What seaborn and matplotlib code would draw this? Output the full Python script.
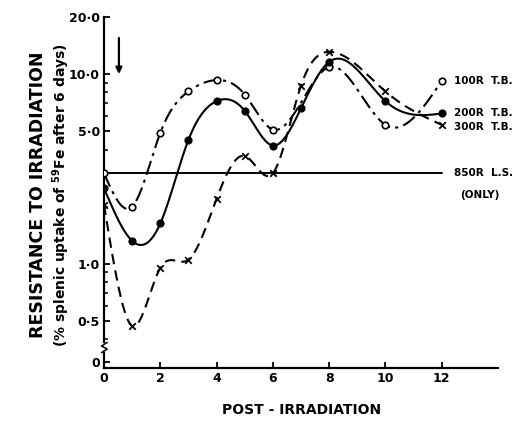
import numpy as np
import pandas as pd
import matplotlib
matplotlib.use("Agg")
import matplotlib.pyplot as plt
import matplotlib.transforms as mtransforms
import seaborn as sns

# ---- data ----
days_all = [0, 1, 2, 3, 4, 5, 6, 7, 8, 10, 12]
days_100 = [0, 1, 2, 3, 4, 5, 6, 8, 10, 12]
uptake_100R = [3.0, 2.0, 4.9, 8.1, 9.3, 7.8, 5.1, 10.9, 5.4, 9.2]
uptake_200R = [2.5, 1.32, 1.63, 4.5, 7.2, 6.4, 4.2, 6.6, 11.6, 7.2, 6.2]
uptake_300R = [2.05, 0.47, 0.95, 1.05, 2.2, 3.7, 3.0, 8.7, 13.1, 8.1, 5.4]
level_850R = 3.0
line_850R_x = [0, 12]

series_labels = ["100R  T.B.", "200R  T.B.", "300R  T.B."]
ytick_vals = [0.303, 0.5, 1.0, 5.0, 10.0, 20.0]
ytick_labels = ["0", "0·5", "1·0", "5·0", "10·0", "20·0"]
yminor_vals = [0.4, 0.6, 0.7, 0.8, 0.9, 2, 3, 4, 6, 7, 8, 9]
xtick_vals = [0, 2, 4, 6, 8, 10, 12]


def natural_spline(x, y, xs):
    x = np.asarray(x, float)
    y = np.asarray(y, float)
    n = len(x)
    h = np.diff(x)
    A = np.zeros((n, n))
    b = np.zeros(n)
    A[0, 0] = A[-1, -1] = 1
    for i in range(1, n - 1):
        A[i, i - 1] = h[i - 1]
        A[i, i] = 2 * (h[i - 1] + h[i])
        A[i, i + 1] = h[i]
        b[i] = 6 * ((y[i + 1] - y[i]) / h[i] - (y[i] - y[i - 1]) / h[i - 1])
    M = np.linalg.solve(A, b)
    idx = np.clip(np.searchsorted(x, xs) - 1, 0, n - 2)
    x0 = x[idx]
    x1 = x[idx + 1]
    hh = x1 - x0
    t0 = xs - x0
    t1 = x1 - xs
    return (M[idx] * t1 ** 3 / (6 * hh) + M[idx + 1] * t0 ** 3 / (6 * hh)
            + (y[idx] / hh - M[idx] * hh / 6) * t1
            + (y[idx + 1] / hh - M[idx + 1] * hh / 6) * t0)


def smooth(x, v):
    xs = np.linspace(x[0], x[-1], 400)
    ys = 10 ** natural_spline(x, np.log10(v), xs)
    return pd.DataFrame({"day": xs, "uptake": ys})


sns.set_style("ticks")
plt.rcParams["font.family"] = ["DejaVu Sans"]
plt.rcParams["font.weight"] = "bold"
plt.rcParams["text.color"] = "black"
plt.rcParams["xtick.color"] = "black"
plt.rcParams["ytick.color"] = "black"
plt.rcParams["axes.labelcolor"] = "black"

fig = plt.figure(figsize=(5.16, 4.25), dpi=100)
ax = fig.add_axes([104 / 516, 1 - 368 / 425, (498 - 104) / 516, (368 - 17) / 425])
ax.set_yscale("log")

styles = [
    (days_100, uptake_100R, (0, (7, 2.5, 1.5, 2.5)), "o", "white"),
    (days_all, uptake_200R, "-", "o", "black"),
    (days_all, uptake_300R, (0, (5, 3)), "x", "black"),
]
for x, v, ls, mk, fc in styles:
    df = smooth(x, v)
    sns.lineplot(data=df, x="day", y="uptake", ax=ax, color="black", lw=1.5,
                 linestyle=ls, sort=False, estimator=None, legend=False)
    pts = pd.DataFrame({"day": x, "uptake": v})
    if mk == "x":
        sns.scatterplot(data=pts, x="day", y="uptake", ax=ax, marker="x",
                        color="black", s=22, linewidth=1.3, legend=False, zorder=5)
    else:
        sns.scatterplot(data=pts, x="day", y="uptake", ax=ax, marker="o",
                        facecolor=fc, edgecolor="black", s=22, linewidth=1.2,
                        legend=False, zorder=5)

# 850R L.S. only reference line
sns.lineplot(x=line_850R_x, y=[level_850R, level_850R], ax=ax, color="black",
             lw=1.4, legend=False)

ax.set_xlim(0, 14)
ax.set_ylim(0.282, 20)
ax.set_yticks(ytick_vals)
ax.set_yticklabels(ytick_labels)
ax.set_yticks(yminor_vals, minor=True)
ax.yaxis.set_minor_formatter(matplotlib.ticker.NullFormatter())
ax.set_xticks(xtick_vals)
ax.set_xticklabels([str(t) for t in xtick_vals])
ax.tick_params(axis="both", which="major", direction="in", length=4, width=1.3,
               labelsize=9, pad=3, color="black", labelcolor="black")
ax.tick_params(axis="y", which="minor", direction="in", length=3, width=1.1,
               color="black")
for lab in ax.get_xticklabels() + ax.get_yticklabels():
    lab.set_fontweight("bold")
for s in ["top", "right"]:
    ax.spines[s].set_visible(False)
for s in ["left", "bottom"]:
    ax.spines[s].set_linewidth(1.6)
    ax.spines[s].set_color("black")
ax.set_xlabel("")
ax.set_ylabel("")

# axis break mark on the y axis
trans = mtransforms.blended_transform_factory(ax.transAxes, ax.transData)
ax.plot([0.0, 0.0], [0.35, 0.375], color="white", lw=3, transform=trans,
        clip_on=False, zorder=6)
ax.plot([-0.006, 0.008, -0.006], [0.34, 0.355, 0.368], color="black",
        lw=1.1, transform=trans, clip_on=False, zorder=7)
ax.plot([-0.006, 0.008], [0.368, 0.385], color="black",
        lw=1.1, transform=trans, clip_on=False, zorder=7)

# arrow
arrow_x, arrow_top, arrow_bottom = 0.53, 15.5, 10.0
ax.annotate("", xy=(arrow_x, arrow_bottom), xytext=(arrow_x, arrow_top),
            arrowprops=dict(arrowstyle="-|>", color="black", lw=1.6,
                            mutation_scale=9, shrinkA=0, shrinkB=0))

# right-side labels
label_x = 12.42
ax.text(label_x, uptake_100R[-1], series_labels[0], fontsize=7.5, fontweight="bold",
        va="center", ha="left")
ax.text(label_x, uptake_200R[-1], series_labels[1], fontsize=7.5, fontweight="bold",
        va="center", ha="left")
ax.text(label_x, uptake_300R[-1] * 0.97, series_labels[2], fontsize=7.5,
        fontweight="bold", va="center", ha="left")
ax.text(label_x, level_850R, "850R  L.S.", fontsize=7.5, fontweight="bold",
        va="center", ha="left")
ax.text(label_x + 0.25, level_850R * 0.77, "(ONLY)", fontsize=7.5,
        fontweight="bold", va="center", ha="left")

fig.text(38 / 516, 1 - 195 / 425, "RESISTANCE TO IRRADIATION", rotation=90,
         ha="center", va="center", fontsize=12.5, fontweight="bold")
fig.text(61 / 516, 1 - 195 / 425,
         "(% splenic uptake of $^{\\mathbf{59}}$Fe after 6 days)", rotation=90,
         ha="center", va="center", fontsize=10, fontweight="bold")
fig.text(302 / 516, 1 - 410 / 425, "POST - IRRADIATION", ha="center", va="center",
         fontsize=10, fontweight="bold")

fig.savefig("out.png", dpi=100, facecolor="white")
